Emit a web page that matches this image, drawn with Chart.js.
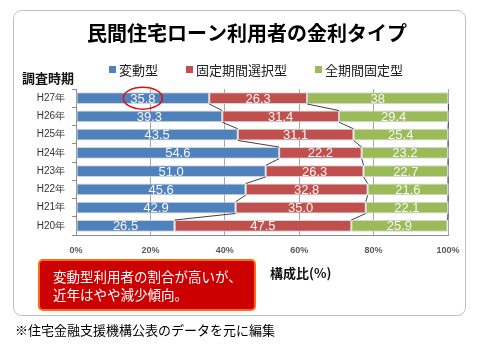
<!DOCTYPE html>
<html lang="ja">
<head>
<meta charset="utf-8">
<script src="https://cdn.jsdelivr.net/npm/chart.js@4"></script>
<style>
  body { margin: 0; background: #fff; }
  canvas { display: block; }
</style>
</head>
<body>
<canvas id="myChart" width="477" height="348"></canvas>
<script>
// 調査時期 (上から新しい順)
const years = ['H27年', 'H26年', 'H25年', 'H24年', 'H23年', 'H22年', 'H21年', 'H20年'];
// 構成比 (%) — 表示どおりの文字列で保持
const hendou   = ['35.8', '39.3', '43.5', '54.6', '51.0', '45.6', '42.9', '26.5'];
const kikan    = ['26.3', '31.4', '31.1', '22.2', '26.3', '32.8', '35.0', '47.5'];
const zenkikan = ['38',   '29.4', '25.4', '23.2', '22.7', '21.6', '22.1', '25.9'];
const seriesNames = ['変動型', '固定期間選択型', '全期間固定型'];
const seriesColors = ['#4f81bd', '#c0504d', '#9bbb59'];

const JP = '"Noto Sans CJK JP", "Noto Sans", sans-serif';
const NUM = '"Liberation Sans", Arial, sans-serif';

function roundRect(c, x, y, w, h, r) {
  c.beginPath();
  c.moveTo(x + r, y);
  c.arcTo(x + w, y, x + w, y + h, r);
  c.arcTo(x + w, y + h, x, y + h, r);
  c.arcTo(x, y + h, x, y, r);
  c.arcTo(x, y, x + w, y, r);
  c.closePath();
}

// 棒の中央に数値
const barLabels = {
  id: 'barLabels',
  afterDatasetsDraw(chart) {
    const c = chart.ctx;
    c.save();
    c.font = '13px ' + NUM;
    c.fillStyle = '#f6f6f6';
    c.textAlign = 'center';
    c.textBaseline = 'middle';
    chart.data.datasets.forEach((ds, i) => {
      chart.getDatasetMeta(i).data.forEach((bar, j) => {
        c.fillText(ds.text[j], (bar.x + bar.base) / 2, bar.y + 1);
      });
    });
    c.restore();
  }
};

// 区分線 (系列の境目を行間でつなぐ)
const seriesLines = {
  id: 'seriesLines',
  afterDatasetsDraw(chart) {
    const c = chart.ctx;
    c.save();
    c.strokeStyle = '#404040';
    c.lineWidth = 1;
    chart.data.datasets.forEach((ds, i) => {
      const bars = chart.getDatasetMeta(i).data;
      for (let j = 0; j < bars.length - 1; j++) {
        const a = bars[j], b = bars[j + 1];
        c.beginPath();
        c.moveTo(a.x, a.y + a.height / 2);
        c.lineTo(b.x, b.y - b.height / 2);
        c.stroke();
      }
    });
    c.restore();
  }
};

// 枠・タイトル・凡例・注記
const decor = {
  id: 'decor',
  afterDraw(chart) {
    const c = chart.ctx;
    c.save();

    // 外枠
    c.strokeStyle = '#bfbfbf';
    c.lineWidth = 1;
    roundRect(c, 13.5, 10.5, 452, 305, 8);
    c.stroke();

    // タイトル
    c.fillStyle = '#000';
    c.font = 'bold 20px ' + JP;
    c.textAlign = 'center';
    c.textBaseline = 'middle';
    c.fillText('民間住宅ローン利用者の金利タイプ', 247, 33);

    // 凡例
    c.font = '13px ' + JP;
    c.textAlign = 'left';
    let lx = 109;
    seriesNames.forEach((name, i) => {
      c.fillStyle = seriesColors[i];
      c.fillRect(lx, 66, 7, 7);
      c.fillStyle = '#222';
      c.fillText(name, lx + 10, 70);
      lx += 10 + c.measureText(name).width + 28;
    });

    // 軸見出し
    c.fillStyle = '#111';
    c.font = 'bold 13px ' + JP;
    c.fillText('調査時期', 22, 78);
    c.fillText('構成比(%)', 270, 273);

    // 注記ボックス
    roundRect(c, 39, 260, 216, 50, 4);
    c.fillStyle = '#cc0000';
    c.fill();
    c.strokeStyle = '#ff6a13';
    c.lineWidth = 2;
    c.stroke();
    c.fillStyle = '#fff';
    c.font = '13.5px ' + JP;
    c.fillText('変動型利用者の割合が高いが、', 53, 277);
    c.fillText('近年はやや減少傾向。', 53, 295);

    // 出典
    c.fillStyle = '#000';
    c.font = '13px ' + JP;
    c.fillText('※住宅金融支援機構公表のデータを元に編集', 15, 330);

    // 最新年の変動型を丸で囲む
    const first = chart.getDatasetMeta(0).data[0];
    c.strokeStyle = '#e01010';
    c.lineWidth = 1.5;
    c.beginPath();
    c.ellipse((first.x + first.base) / 2, first.y, 19.5, 11, 0, 0, Math.PI * 2);
    c.stroke();

    c.restore();
  }
};

const ctx = document.getElementById('myChart');
const myChart = new Chart(ctx, {
  type: 'bar',
  data: {
    labels: years,
    datasets: [hendou, kikan, zenkikan].map((arr, i) => ({
      label: seriesNames[i],
      data: arr.map(Number),
      text: arr,
      backgroundColor: seriesColors[i],
      borderColor: '#d4d4d4',
      borderWidth: 1,
      borderSkipped: false,
      categoryPercentage: 1,
      barPercentage: 0.64
    }))
  },
  options: {
    indexAxis: 'y',
    responsive: false,
    animation: false,
    layout: {
      padding: { top: 89, left: 12, right: 29, bottom: 89 }
    },
    scales: {
      x: {
        stacked: true,
        min: 0,
        max: 100,
        afterFit: (s) => { s.height = 24; },
        border: { color: '#8c8c8c' },
        grid: { color: '#a6a6a6', drawTicks: false },
        ticks: {
          stepSize: 20,
          padding: 10,
          color: '#595959',
          font: { family: NUM, size: 9, weight: 'bold' },
          callback: (v) => v + '%'
        }
      },
      y: {
        stacked: true,
        afterFit: (s) => { s.width = 64; },
        border: { color: '#8c8c8c' },
        grid: { drawOnChartArea: false, tickLength: 4, color: '#8c8c8c' },
        ticks: {
          padding: 7,
          color: '#333',
          font: { family: NUM, size: 10 }
        }
      }
    },
    plugins: {
      legend: { display: false },
      title: { display: false },
      tooltip: { enabled: false }
    }
  },
  plugins: [seriesLines, barLabels, decor]
});
</script>
</body>
</html>
